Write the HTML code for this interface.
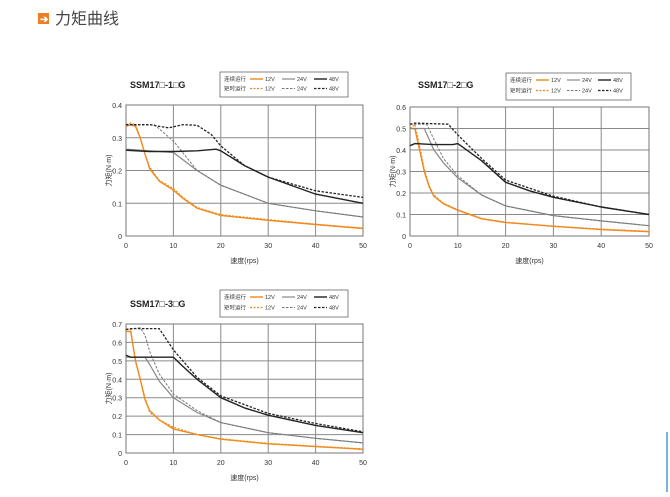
<!DOCTYPE html>
<html><head><meta charset="utf-8">
<style>
html,body{margin:0;padding:0;background:#fff;}
body{width:670px;height:492px;overflow:hidden;position:relative;font-family:"Liberation Sans","Noto Sans CJK SC",sans-serif;}
svg text{font-family:"Liberation Sans","Noto Sans CJK SC",sans-serif;}
</style></head>
<body>
<svg id="s" width="670" height="492" viewBox="0 0 670 492" xmlns="http://www.w3.org/2000/svg">
  <g>
    <rect x="38" y="13" width="11" height="11" fill="#ef7d22"/>
    <text x="40" y="22.5" font-size="10" fill="#fff" font-weight="bold">➔</text>
    <text x="55" y="24" font-size="16" fill="#444">力矩曲线</text>
  </g>
  <line x1="667" y1="432" x2="667" y2="492" stroke="#7fb2d9" stroke-width="2"/>
</svg>
<script>
// ---- Chart 1 data: SSM17□-1□G ----
const c1_12c_x=[0,1,2,3,4,5,7,10,12,15,20,30,40,50];
const c1_12c_y=[0.335,0.34,0.335,0.3,0.25,0.205,0.168,0.14,0.115,0.085,0.063,0.048,0.035,0.023];
const c1_12p_x=[0,1,2,3,4,5,7,10,12,15,20,30,40,50];
const c1_12p_y=[0.34,0.345,0.34,0.3,0.25,0.21,0.17,0.145,0.118,0.087,0.065,0.05,0.036,0.024];
const c1_24c_x=[0,5,10,15,20,30,40,50];
const c1_24c_y=[0.265,0.26,0.255,0.2,0.155,0.1,0.077,0.058];
const c1_24p_x=[0,6,10,15,20,30,40,50];
const c1_24p_y=[0.34,0.34,0.29,0.2,0.155,0.1,0.077,0.058];
const c1_48c_x=[0,5,10,15,19,20,25,30,40,50];
const c1_48c_y=[0.262,0.258,0.258,0.26,0.265,0.26,0.215,0.18,0.128,0.1];
const c1_48p_x=[0,5,9,12,15,18,20,25,30,40,50];
const c1_48p_y=[0.34,0.34,0.33,0.34,0.338,0.31,0.275,0.215,0.18,0.138,0.118];
// ---- Chart 2 data: SSM17□-2□G ----
const c2_12c_x=[0,1,2,3,4,5,7,10,15,20,30,40,50];
const c2_12c_y=[0.5,0.5,0.4,0.3,0.23,0.185,0.15,0.12,0.08,0.063,0.045,0.03,0.02];
const c2_12p_x=[0,1,2,3,4,5,7,10,15,20,30,40,50];
const c2_12p_y=[0.5,0.52,0.42,0.31,0.235,0.19,0.152,0.122,0.082,0.064,0.046,0.032,0.022];
const c2_24c_x=[0,3,5,7,10,15,20,30,40,50];
const c2_24c_y=[0.5,0.5,0.4,0.34,0.27,0.19,0.14,0.095,0.07,0.048];
const c2_24p_x=[0,3.5,5,7,10,15,20,30,40,50];
const c2_24p_y=[0.52,0.52,0.45,0.36,0.28,0.19,0.14,0.095,0.07,0.048];
const c2_48c_x=[0,1,5,9,10,15,18,20,25,30,40,50];
const c2_48c_y=[0.42,0.43,0.425,0.425,0.43,0.35,0.29,0.25,0.21,0.18,0.135,0.1];
const c2_48p_x=[0,1,8,10,15,20,30,40,50];
const c2_48p_y=[0.52,0.525,0.52,0.47,0.36,0.26,0.185,0.135,0.1];
// ---- Chart 3 data: SSM17□-3□G ----
const c3_12c_x=[0,1,2,3,4,5,7,10,15,20,30,40,50];
const c3_12c_y=[0.66,0.66,0.5,0.4,0.29,0.23,0.18,0.13,0.1,0.075,0.05,0.035,0.02];
const c3_12p_x=[0,1,2,3,4,5,7,10,15,20,30,40,50];
const c3_12p_y=[0.67,0.67,0.5,0.4,0.3,0.22,0.18,0.14,0.1,0.077,0.052,0.037,0.022];
const c3_24c_x=[0,4,5,7,10,15,20,30,40,50];
const c3_24c_y=[0.52,0.52,0.48,0.39,0.3,0.22,0.165,0.11,0.08,0.055];
const c3_24p_x=[0,3,4,5,7,10,15,20,30,40,50];
const c3_24p_y=[0.67,0.68,0.64,0.55,0.43,0.32,0.23,0.165,0.11,0.08,0.055];
const c3_48c_x=[0,1,5,10,12,15,20,25,30,40,50];
const c3_48c_y=[0.53,0.52,0.52,0.52,0.47,0.4,0.3,0.245,0.205,0.15,0.11];
const c3_48p_x=[0,1,7,10,15,20,30,40,50];
const c3_48p_y=[0.67,0.675,0.675,0.56,0.41,0.31,0.215,0.16,0.115];
// ticks
const xTicks=[0,10,20,30,40,50];
const yTicks1=[0,0.1,0.2,0.3,0.4];
const yTicks2=[0,0.1,0.2,0.3,0.4,0.5,0.6];
const yTicks3=[0,0.1,0.2,0.3,0.4,0.5,0.6,0.7];
const legendLabels=["12V","24V","48V"];

const NS="http://www.w3.org/2000/svg";
const svg=document.getElementById('s');
function mk(tag,attrs,parent){const e=document.createElementNS(NS,tag);for(const k in attrs)e.setAttribute(k,attrs[k]);(parent||svg).appendChild(e);return e;}

function chart(cfg){
  const g=mk('g',{});
  
  
  const X=v=>cfg.x0+(v-0)/50*(cfg.x1-cfg.x0);
  const Y=v=>cfg.y0-(v/cfg.ymax)*(cfg.y0-cfg.y1);
  const grid=mk('g',{},g);
  
  
  cfg.yt.forEach(t=>{mk('line',{x1:cfg.x0,x2:cfg.x1,y1:Y(t),y2:Y(t),stroke:'#8a8a8a','stroke-width':1},grid);
    const tx=mk('text',{x:cfg.x0-4,y:Y(t)+3,'font-size':7,'text-anchor':'end',fill:'#333'},g);
    
    
    tx.textContent=String(t);});
  xTicks.forEach(t=>{mk('line',{x1:X(t),x2:X(t),y1:cfg.y0,y2:cfg.y1,stroke:'#8a8a8a','stroke-width':1},grid);
    const tx=mk('text',{x:X(t),y:cfg.y0+12,'font-size':7,'text-anchor':'middle',fill:'#333'},g);
    
    
    tx.textContent=String(t);});
  mk('rect',{x:cfg.x0,y:cfg.y1,width:cfg.x1-cfg.x0,height:cfg.y0-cfg.y1,fill:'none',stroke:'#777','stroke-width':1},g);
  const yt=mk('text',{x:0,y:0,'font-size':7,'text-anchor':'middle',fill:'#333',transform:`translate(${cfg.x0-15},${(cfg.y0+cfg.y1)/2}) rotate(-90)`},g);
  
  
  yt.textContent='力矩(N·m)';
  const xt=mk('text',{x:(cfg.x0+cfg.x1)/2,y:cfg.y0+27,'font-size':7,'text-anchor':'middle',fill:'#333'},g);
  
  
  xt.textContent='速度(rps)';
  const ti=mk('text',{x:cfg.tx,y:cfg.ty,'font-size':9,'font-weight':'bold',fill:'#222'},g);
  
  
  ti.textContent=cfg.title;
  const styles=[['#f08a1c',1.4,null],['#f08a1c',1.2,'2,1.5'],['#888',1.2,null],['#777',1,'2.5,1.5'],['#222',1.4,null],['#222',1.3,'2.5,1.5']];
  const names=['series-12v-continuous','series-12v-pulse','series-24v-continuous','series-24v-pulse','series-48v-continuous','series-48v-pulse'];
  cfg.series.forEach((s,i)=>{
    const pts=s[0].map((x,j)=>X(x).toFixed(1)+','+Y(s[1][j]).toFixed(1)).join(' ');
    const a={points:pts,fill:'none',stroke:styles[i][0],'stroke-width':styles[i][1],'stroke-linejoin':'round'};
    if(styles[i][2])a['stroke-dasharray']=styles[i][2];
    const p=mk('polyline',a,g);
    
    
  });
  const L=cfg.leg;
  const lg=mk('g',{},g);
  
  
  mk('rect',{x:L[0],y:L[1],width:L[2],height:L[3],fill:'#fff',stroke:'#666','stroke-width':0.8},lg);
  const rows=['连续运行','矩时运行'];
  rows.forEach((r,ri)=>{
    const yy=L[1]+7+ri*(L[3]-6)/2;
    const t=mk('text',{x:L[0]+4,y:yy+2,'font-size':5.5,fill:'#333'},lg);
    
    
    t.textContent=r;
    legendLabels.forEach((lab,k)=>{
      const st=styles[k*2+ri];
      const lx=L[0]+30+k*(L[2]-32)/3;
      const la={x1:lx,x2:lx+13,y1:yy,y2:yy,stroke:st[0],'stroke-width':st[1]};
      if(st[2])la['stroke-dasharray']=st[2];
      const ln=mk('line',la,lg);
      
      
      const lt=mk('text',{x:lx+15,y:yy+2,'font-size':5.5,fill:'#333'},lg);
      
      
      lt.textContent=lab;
    });
  });
}
chart({name:'chart-ssm17-1g',x0:126,x1:363,y0:236,y1:105,ymax:0.4,yt:yTicks1,title:'SSM17□-1□G',tx:130,ty:88,leg:[220,72,128,25],
  series:[[c1_12c_x,c1_12c_y],[c1_12p_x,c1_12p_y],[c1_24c_x,c1_24c_y],[c1_24p_x,c1_24p_y],[c1_48c_x,c1_48c_y],[c1_48p_x,c1_48p_y]]});
chart({name:'chart-ssm17-2g',x0:410,x1:649,y0:236,y1:107,ymax:0.6,yt:yTicks2,title:'SSM17□-2□G',tx:418,ty:88,leg:[506,73,125,27],
  series:[[c2_12c_x,c2_12c_y],[c2_12p_x,c2_12p_y],[c2_24c_x,c2_24c_y],[c2_24p_x,c2_24p_y],[c2_48c_x,c2_48c_y],[c2_48p_x,c2_48p_y]]});
chart({name:'chart-ssm17-3g',x0:126,x1:363,y0:453,y1:324,ymax:0.7,yt:yTicks3,title:'SSM17□-3□G',tx:130,ty:307,leg:[220,290,128,27],
  series:[[c3_12c_x,c3_12c_y],[c3_12p_x,c3_12p_y],[c3_24c_x,c3_24c_y],[c3_24p_x,c3_24p_y],[c3_48c_x,c3_48c_y],[c3_48p_x,c3_48p_y]]});
</script>
</body></html>
